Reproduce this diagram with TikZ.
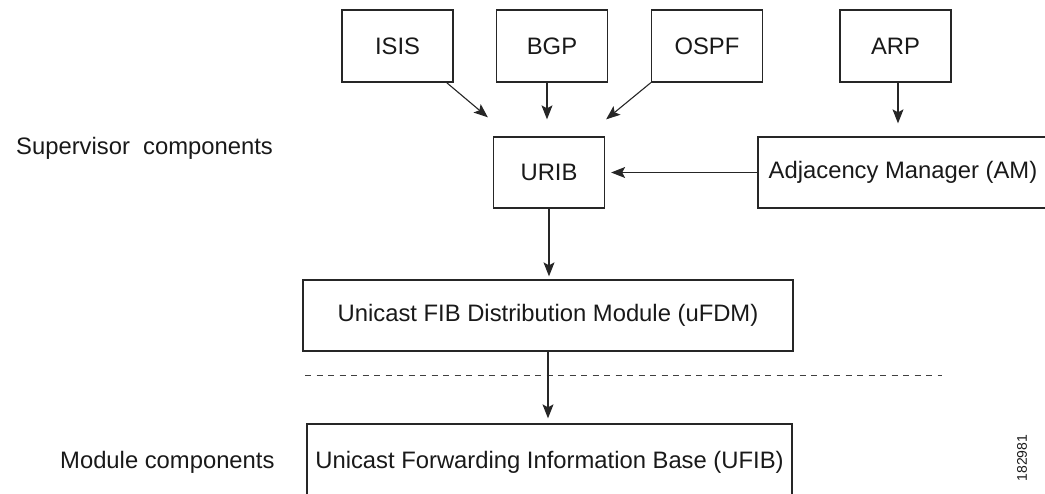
\documentclass[tikz,border=0pt]{standalone}
\usepackage{fontspec}
\setmainfont{Liberation Sans}
\usetikzlibrary{arrows.meta,calc}
\begin{document}
\begin{tikzpicture}[x=1pt,y=-1pt,
  box/.style={draw=black!85, line width=1.3pt, minimum width=111pt, minimum height=72pt, inner sep=0pt, font=\fontsize{23.8}{28}\selectfont, text=black!90},
  lbl/.style={font=\fontsize{23.8}{28}\selectfont, inner sep=0pt, text=black!90},
  arr/.style={line width=1.1pt, draw=black!85, -{Stealth[length=14pt,width=11pt,inset=3pt]}},
  sep/.style={line width=0.9pt, draw=black!75, dash pattern=on 6pt off 5.5pt}]
\useasboundingbox (0,0) rectangle (1045,494);
\clip (0,0) rectangle (1045,494);
\node[box] (isis) at (397.5,46) {ISIS};
\node[box] (bgp) at (552,46) {BGP};
\node[box] (ospf) at (707,46) {OSPF};
\node[box] (arp) at (895.5,46) {ARP};
\node[box, minimum height=71pt] (urib) at (549,172.5) {URIB};
\node[box, minimum width=290pt, minimum height=71pt] (am) at (903,172.5) {Adjacency Manager (AM)};
\node[box, minimum width=490pt, minimum height=71pt] (ufdm) at (548,315.5) {Unicast FIB Distribution Module (uFDM)};
\node[box, minimum width=485pt, minimum height=76pt] (ufib) at (549.5,462) {Unicast Forwarding Information Base (UFIB)};
\node[lbl, anchor=west] (sup) at (16,148) {Supervisor\ \ components};
\node[lbl, anchor=west] (mod) at (60,462) {Module components};
\node[font=\fontsize{14}{16}\selectfont, rotate=90, inner sep=0pt, text=black!90] (fig) at (1022,458) {182981};
\coordinate (dl) at (305,375);
\coordinate (dr) at (942,375);
\draw[sep] (dl) -- (dr);
\draw[arr] ([xshift=-7pt]isis.south east) -- ($(urib.north west)+(-5,-19)$);
\draw[arr] ($(bgp.south)+(-5,0)$) -- ($(bgp.south |- urib.north)+(-5,-17)$);
\draw[arr] (ospf.south west) -- ($(urib.north east)+(1,-17)$);
\draw[arr] ($(arp.south)+(2.5,0)$) -- ($(arp.south |- am.north)+(2.5,-13)$);
\draw[arr] (am.west) -- ($(urib.east)+(6,0)$);
\draw[arr] (urib.south) -- ($(urib.south |- ufdm.north)+(0,-3)$);
\draw[arr] (ufdm.south) -- ($(ufdm.south |- ufib.north)+(0,-5)$);
\end{tikzpicture}
\end{document}
